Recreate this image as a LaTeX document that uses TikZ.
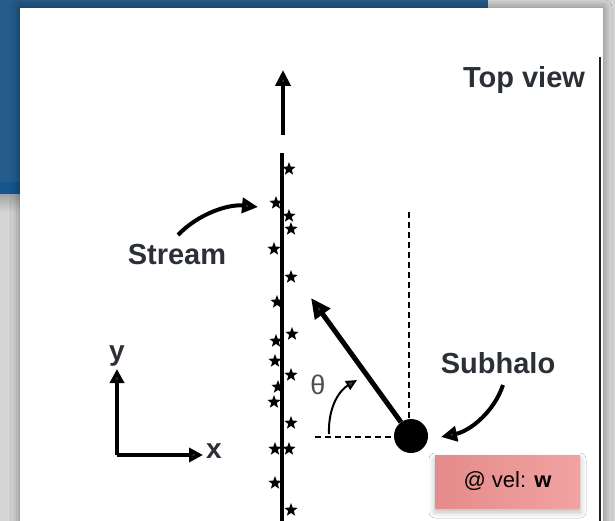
\documentclass[tikz,border=0pt]{standalone}
\usepackage{fontspec}
\setmainfont{Liberation Sans}
\usetikzlibrary{arrows.meta,shapes.geometric,shadows.blur}

\definecolor{panelblue}{HTML}{245C8B}
\definecolor{panelbluedark}{HTML}{13578E}
\definecolor{deskgray}{HTML}{D5D5D5}
\definecolor{inkgray}{HTML}{2B2F36}
\definecolor{notepinkA}{HTML}{E48B8B}
\definecolor{notepinkB}{HTML}{F1A3A1}

\begin{document}
\begin{tikzpicture}[x=1pt,y=-1pt,
  biglabel/.style={font=\fontsize{29}{34}\selectfont\bfseries, text=inkgray, inner sep=0, anchor=base},
  axislabel/.style={font=\fontsize{28}{32}\selectfont\bfseries, text=inkgray, inner sep=0, anchor=base},
  starmark/.style={star, star points=5, star point ratio=2.4, fill=black, draw=none, minimum size=14, inner sep=0},
  heavyarrow/.style={line width=4, -{Triangle[length=16,width=15]}},
  axisarrow/.style={line width=4, -{Triangle[length=14,width=14]}},
  guide/.style={line width=1.8, dash pattern=on 6 off 4},
]
\useasboundingbox (0,0) rectangle (615,521);

% desk, blue window behind and the white sheet
\fill[deskgray] (0,0) rectangle (615,521);
\fill[panelblue] (0,0) rectangle (488,195);
\fill[panelbluedark] (0,182) rectangle (488,195);
\shade[top color=black!35, bottom color=deskgray] (0,195) rectangle (20,212);
\fill[white, blur shadow={shadow xshift=0, shadow yshift=0, shadow blur radius=9, shadow opacity=45}]
  (20,8) rectangle (603,530);
\draw[line width=1.6, black!88] (600,57) -- (600,521);

% title
\node[biglabel] (title) at (524,88) {Top view};

% stream with its direction of motion
\coordinate (flowbase) at (283,135);
\coordinate (flowtip) at (283,70);
\draw[heavyarrow] (flowbase) -- (flowtip);
\coordinate (streamtop) at (282,153);
\coordinate (streambot) at (282,521);
\draw[line width=4] (streamtop) -- (streambot);

\foreach \sx/\sy [count=\k] in {289/169, 276/203, 289/216, 291/229, 274/249, 291/277,
    277/302, 292/334, 276/341, 275/361, 291/375, 278/387, 274/402, 291/423,
    275/449, 289/449, 275/483, 291/510}
  \node[starmark] (st\k) at (\sx,\sy) {};

% stream label
\node[biglabel] (streamlbl) at (177,264) {Stream};
\coordinate (streamfrom) at (178,235);
\coordinate (streamto) at (258,207);
\draw[heavyarrow] (streamfrom) .. controls (198,214) and (228,204) .. (streamto);

% coordinate axes
\coordinate (origin) at (117,455);
\coordinate (yend) at (117,369);
\coordinate (xend) at (203,455);
\draw[axisarrow] (origin) -- (yend);
\draw[axisarrow] (origin) -- (xend);
\node[axislabel] (ylbl) at (117,360) {y};
\node[axislabel] (xlbl) at (214,458) {x};

% subhalo, its velocity and the impact angle
\node[circle, fill=black, minimum size=34, inner sep=0] (halo) at (411,436) {};
\coordinate (vtop) at (409,212);
\coordinate (hleft) at (315,437);
\draw[guide] (vtop) -- (halo.north -| vtop);
\draw[guide] (hleft) -- (halo.west |- hleft);
\coordinate (veltip) at (311,298);
\draw[line width=5, -{Triangle[length=20,width=18]}] (halo) -- (veltip);

\coordinate (arcfrom) at (329,434);
\coordinate (arcto) at (357,380);
\draw[line width=2, -{Triangle[length=11,width=10]}] (arcfrom) .. controls (328,406) and (340,390) .. (arcto);
\node[font=\fontsize{27}{30}\selectfont, text=inkgray!85, inner sep=0, anchor=base] (theta) at (318,394) {θ};

\node[biglabel] (halolbl) at (498,373) {Subhalo};
\coordinate (halofrom) at (503,385);
\coordinate (haloto) at (441,437);
\draw[heavyarrow] (halofrom) .. controls (494,412) and (470,431) .. (haloto);

% velocity note
\node[minimum width=145, minimum height=53, inner sep=0, left color=notepinkA, right color=notepinkB,
      blur shadow={shadow xshift=0, shadow yshift=-4, shadow blur radius=6, shadow opacity=28},
      font=\fontsize{22}{26}\selectfont, text=black] (velnote) at (507.5,481.5) {@ vel: \textbf{w}};
\end{tikzpicture}
\end{document}
